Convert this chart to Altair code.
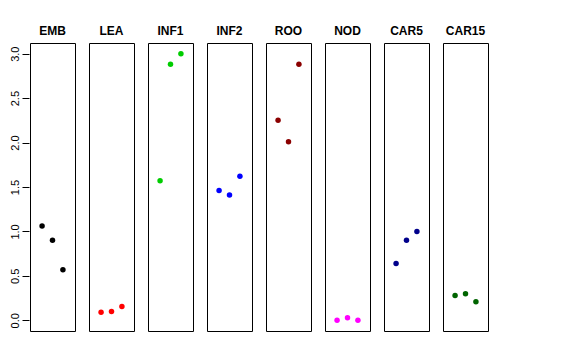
import altair as alt
import pandas as pd

tissues = ["EMB", "LEA", "INF1", "INF2", "ROO", "NOD", "CAR5", "CAR15"]
colors = ["#000000", "#FF0000", "#00CD00", "#0000FF", "#8B0000", "#FF00FF", "#00008B", "#006400"]
positions = [1, 2, 3]
values = {
    "EMB": [1.06, 0.90, 0.57],
    "LEA": [0.09, 0.10, 0.155],
    "INF1": [1.57, 2.88, 3.00],
    "INF2": [1.46, 1.41, 1.62],
    "ROO": [2.25, 2.01, 2.88],
    "NOD": [0.00, 0.03, 0.00],
    "CAR5": [0.64, 0.90, 1.00],
    "CAR15": [0.28, 0.30, 0.21],
}
y_ticks = [0.0, 0.5, 1.0, 1.5, 2.0, 2.5, 3.0]

rows = []
for t in tissues:
    for p, v in zip(positions, values[t]):
        rows.append({"tissue": t, "pos": p, "value": v})
df = pd.DataFrame(rows)

FONT = "Liberation Sans"

base = alt.Chart(df).mark_circle(size=30, opacity=1).encode(
    x=alt.X("pos:Q", scale=alt.Scale(domain=[-0.16, 4.16], nice=False, zero=False), axis=None),
    y=alt.Y(
        "value:Q",
        scale=alt.Scale(domain=[-0.12, 3.12], nice=False, zero=False),
        axis=alt.Axis(
            values=y_ticks, format=".1f", labelAngle=270, labelAlign="center",
            labelBaseline="bottom", grid=False, domain=False, tickSize=7,
            tickColor="black", labelColor="black", labelFont=FONT, labelFontSize=11,
            labelPadding=2, title=None,
        ),
    ),
    color=alt.Color("tissue:N", scale=alt.Scale(domain=tissues, range=colors), legend=None),
).properties(width=45, height=288)

chart = base.facet(
    column=alt.Column(
        "tissue:N", sort=tissues, title=None,
        header=alt.Header(labelFont=FONT, labelFontSize=12, labelFontWeight="bold",
                          labelColor="black", labelPadding=4),
    ),
    spacing=12,
).properties(
    padding={"left": 0, "top": 17, "right": 5, "bottom": 5}
).configure(background="white").configure_view(
    stroke="black", strokeWidth=1
).configure_facet(spacing=12)

chart.save("out.html", embed_options={"renderer": "svg", "actions": False})
